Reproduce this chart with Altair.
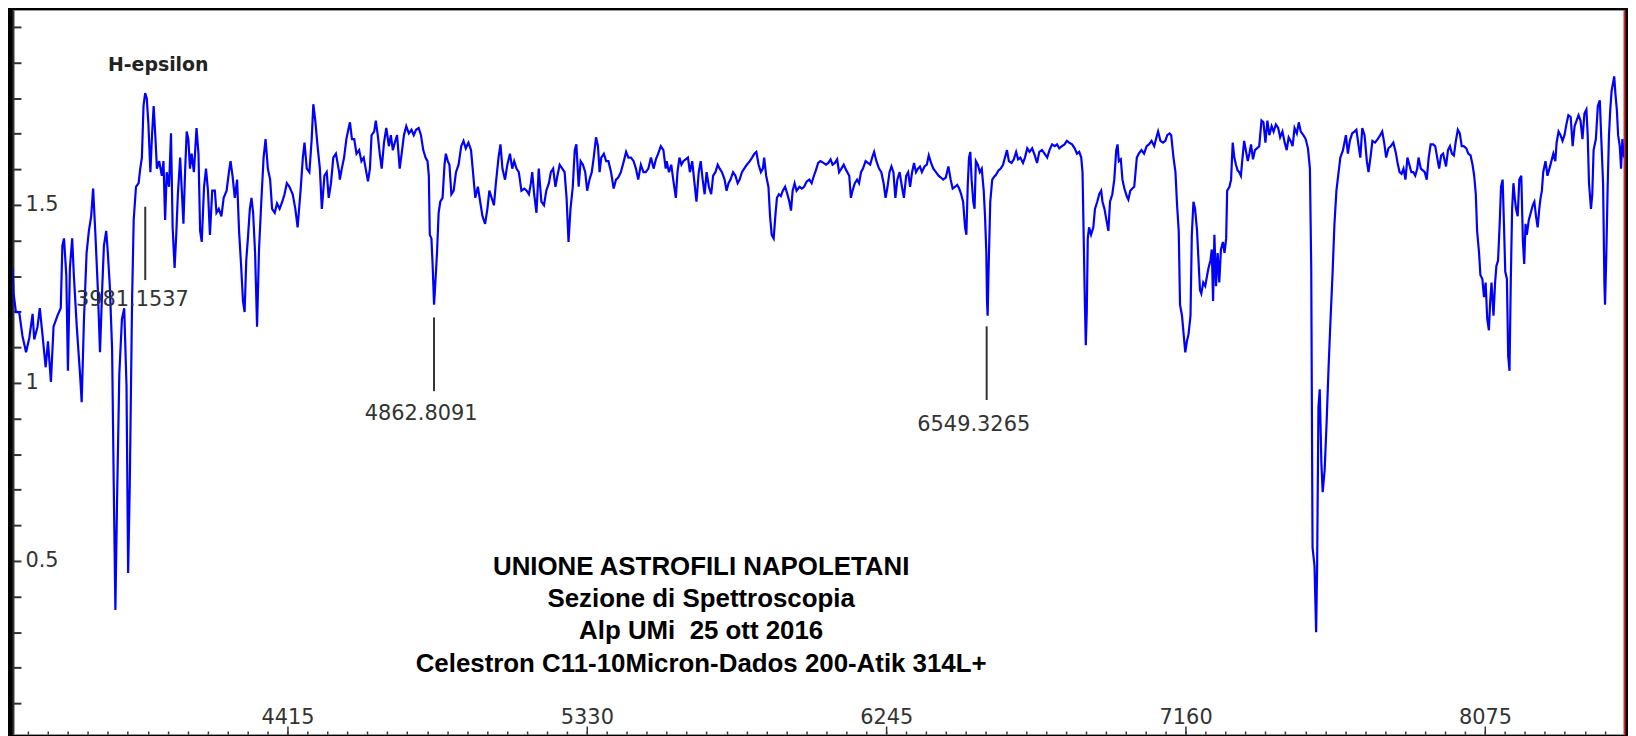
import altair as alt
import pandas as pd

# ---- spectrum (wavelength in Angstrom, relative flux) ----
wavelength = [
 3575,3578,3585,3595,3605,3616,3626,3636,3641,3651,3658,3666,3676,3683,3692,3700,3712,3722,3727,3732,
 3739,3744,3750,3757,3762,3771,3781,3786,3793,3801,3808,3815,3821,3828,3835,3842,3849,3854,3861,3866,
 3872,3879,3884,3889,3894,3901,3909,3916,3923,3928,3933,3940,3945,3952,3960,3965,3970,3975,3980,3985,
 3990,3996,4001,4006,4011,4016,4023,4031,4036,4041,4046,4053,4059,4064,4070,4075,4080,4087,4092,4097,
 4102,4107,4112,4117,4122,4129,4137,4143,4148,4153,4160,4166,4172,4178,4185,4193,4198,4205,4213,4220,
 4229,4236,4241,4247,4254,4261,4267,4273,4279,4284,4289,4294,4300,4305,4310,4316,4322,4328,4335,4342,
 4348,4355,4362,4368,4376,4383,4391,4399,4406,4413,4421,4431,4439,4446,4455,4462,4467,4474,4482,4489,
 4494,4500,4507,4514,4520,4528,4535,4541,4548,4555,4563,4573,
 4575,4581,4588,4595,4602,4606,4612,4619,4626,4634,4641,4648,4654,4661,4667,4672,4680,4685,4691,4697,
 4703,4710,4717,4725,4731,4737,4743,4750,4758,4764,4771,4778,4786,4794,4801,4808,4816,4823,4830,4837,
 4843,4847,4850,4855,4859,4863,4867,4872,4877,4882,4889,4895,4899,4905,4910,4916,4923,4930,4938,4946,
 4953,4960,4968,4976,4982,4989,4997,5004,5011,5019,5026,5032,5039,5046,5052,5060,5066,5072,5080,5087,
 5095,5102,5108,5115,5122,5130,5139,5146,5153,5159,5163,5169,5176,5183,5191,5199,5206,5214,5220,5227,
 5234,5240,5247,5255,5262,5268,5274,5280,5287,5293,5298,5305,5311,5318,5325,5331,5338,5345,5351,5358,
 5364,5369,5374,5382,5389,5396,5404,5412,5419,5426,5434,5443,5450,5457,5465,5473,5480,5487,5495,5503,
 5510,5518,5526,5534,5541,5548,5556,5564,5571,
 5574,5581,5588,5594,5602,5607,5613,5619,5625,5632,5639,5645,5652,5659,5665,5672,5678,5684,5690,5696,
 5703,5710,5716,5723,5730,5736,5743,5751,5757,5763,5769,5777,5784,5791,5797,5804,5811,5819,5828,5835,
 5842,5848,5855,5862,5868,5872,5878,5885,5890,5895,5901,5906,5911,5917,5923,5929,5936,5943,5949,5954,
 5959,5965,5971,5980,5987,5994,6002,6010,6017,6024,6030,6037,6044,6053,6061,6068,6075,6081,6088,6095,
 6101,6108,6115,6123,6132,6137,6142,6149,6156,6162,6168,6174,6182,6189,6196,6202,6208,6215,6223,6230,
 6237,6243,6249,6255,6261,6267,6273,6279,6286,6293,6299,6306,6312,6318,6324,6330,6336,6342,6348,6354,
 6362,6369,6375,6382,6389,6397,6405,6412,6419,6427,6435,6442,6448,6455,6462,6468,6474,6480,6486,6490,
 6494,6498,6502,6506,6511,6515,6519,6525,6531,6537,6543,6547,6551,6553,6555,6558,6563,6569,6577,
 6579,6588,6595,6602,6608,6614,6620,6628,6635,6642,6648,6655,6663,6669,6676,6683,6691,6699,6706,6713,
 6721,6729,6737,6744,6752,6760,6767,6774,6782,6790,6797,6804,6813,6821,6828,6835,6841,6845,6849,6852,
 6855,6858,6861,6865,6871,6878,6883,6890,6896,6902,6906,6912,6918,6924,6929,6936,6942,6948,6952,6956,
 6962,6967,6973,6980,6985,6991,6997,7003,7007,7011,7017,7025,7033,7041,7048,7056,7064,7071,7076,7083,
 7091,7098,7104,7111,7116,7123,7129,7134,7139,7143,7149,7154,7159,7164,7169,7175,7179,7184,7189,7195,
 7200,7204,7208,7214,7220,7226,7230,7236,7240,7244,7248,7253,7258,7263,7268,7274,7279,7284,7287,7294,
 7299,7304,7309,7314,7319,7324,7329,7334,7339,7344,7350,7355,7360,7366,7372,7378,7385,7392,7398,7404,
 7410,7416,7423,7429,7436,7443,7449,7456,7463,7469,7475,7481,7487,7493,7500,7506,7512,7520,7527,7534,
 7540,7544,7548,7554,7559,7562,7566,7570,7575,7579,7585,7591,7597,7603,7609,7615,7621,7627,7633,7641,
 7650,7656,7662,7669,7676,7682,7689,7694,7700,7707,7714,7719,7725,7731,7739,7747,7755,7761,7767,7773,
 7780,7787,7795,7802,7808,7814,7820,7826,7832,7838,7844,7850,7856,7862,7868,7872,7879,7885,7891,7897,
 7903,7909,7917,7923,7929,7935,7941,7947,7956,7962,7968,7974,7980,7986,7992,7998,8004,8010,8018,8024,
 8031,8037,8042,8047,8051,8057,8061,8067,8072,8077,8082,8087,8091,8095,8101,8106,8110,8115,8120,8124,
 8129,8133,8137,8142,8146,8150,8154,8158,8162,8166,8170,8175,8180,8186,8191,8195,8199,8203,8209,8215,
 8221,8226,8231,8236,8241,8245,8249,8253,8260,8266,8272,8278,8284,8290,8294,8300,8306,8312,8318,8324,
 8330,8337,8343,8349,8355,8361,8367,8373,8379,8385,8389,8393,8399,8403,8407,8414,8420,8426,8431,8436,
 8440,8442,8446,8450,8454,8458,8462,8466,8470,8474,8478,8482,8487,8491,8495,8498,8501,
]
flux = [
 1.323,1.251,1.199,1.199,1.132,1.086,1.127,1.194,1.122,1.158,1.210,1.137,1.044,1.117,1.003,1.158,1.189,1.210,1.386,1.406,
 1.303,1.034,1.323,1.406,1.303,1.158,1.024,0.946,1.179,1.365,1.427,1.468,1.546,1.416,1.272,1.086,1.272,1.386,1.427,1.365,
 1.272,1.096,0.714,0.362,0.662,1.024,1.179,1.210,0.993,0.466,0.714,1.230,1.458,1.551,1.561,1.602,1.633,1.778,1.814,1.799,
 1.726,1.592,1.696,1.778,1.696,1.602,1.623,1.582,1.623,1.458,1.592,1.551,1.701,1.437,1.323,1.416,1.530,1.633,1.540,1.447,
 1.592,1.706,1.685,1.602,1.644,1.592,1.716,1.644,1.427,1.396,1.551,1.602,1.540,1.416,1.540,1.540,1.478,1.489,1.468,1.520,
 1.540,1.592,1.623,1.582,1.520,1.571,1.427,1.334,1.230,1.199,1.344,1.406,1.489,1.520,1.478,1.365,1.158,1.375,1.509,1.633,
 1.685,1.602,1.571,1.489,1.478,1.504,1.489,1.509,1.530,1.561,1.551,1.530,1.489,1.437,1.540,1.633,1.675,1.602,1.592,1.685,
 1.783,1.737,1.665,1.602,1.489,1.582,1.592,1.520,1.561,1.633,1.644,1.592,
 1.571,1.602,1.633,1.685,1.716,1.732,1.685,1.685,1.644,1.654,1.623,1.633,1.602,1.566,1.602,1.696,1.706,1.737,1.696,1.644,
 1.602,1.675,1.716,1.665,1.696,1.654,1.675,1.696,1.602,1.644,1.696,1.721,1.701,1.711,1.696,1.711,1.716,1.696,1.654,1.633,
 1.623,1.582,1.416,1.406,1.323,1.220,1.282,1.365,1.478,1.509,1.520,1.613,1.644,1.623,1.613,1.530,1.540,1.592,1.613,1.665,
 1.680,1.659,1.675,1.654,1.592,1.520,1.551,1.509,1.468,1.447,1.489,1.540,1.520,1.499,1.561,1.633,1.670,1.602,1.571,1.613,
 1.644,1.602,1.623,1.602,1.592,1.540,1.546,1.540,1.530,1.561,1.592,1.530,1.478,1.602,1.509,1.499,1.540,1.561,1.592,1.602,
 1.551,1.582,1.613,1.602,1.592,1.520,1.396,1.489,1.551,1.654,1.670,1.551,1.623,1.613,1.592,1.540,1.571,1.592,1.633,1.690,
 1.665,1.592,1.633,1.644,1.623,1.623,1.592,1.546,1.571,1.577,1.592,1.623,1.649,1.633,1.633,1.623,1.602,1.571,1.613,1.592,
 1.592,1.602,1.633,1.602,1.628,1.644,1.665,1.654,1.602,
 1.623,1.592,1.613,1.571,1.520,1.592,1.633,1.613,1.623,1.628,1.633,1.592,1.623,1.561,1.509,1.592,1.623,1.571,1.530,1.592,
 1.551,1.530,1.582,1.592,1.613,1.602,1.592,1.571,1.540,1.561,1.571,1.592,1.582,1.561,1.571,1.592,1.602,1.613,1.623,1.633,
 1.644,1.649,1.613,1.592,1.602,1.633,1.582,1.551,1.468,1.416,1.406,1.468,1.520,1.530,1.525,1.540,1.551,1.530,1.509,1.484,
 1.540,1.561,1.540,1.551,1.546,1.551,1.566,1.571,1.561,1.582,1.597,1.618,1.623,1.618,1.613,1.618,1.628,1.613,1.618,1.628,
 1.592,1.602,1.613,1.597,1.582,1.520,1.540,1.561,1.571,1.561,1.592,1.602,1.623,1.618,1.613,1.633,1.649,1.623,1.602,1.592,
 1.561,1.520,1.551,1.592,1.608,1.592,1.520,1.571,1.592,1.551,1.520,1.582,1.592,1.551,1.592,1.618,1.592,1.602,1.608,1.592,
 1.608,1.613,1.639,1.618,1.602,1.592,1.582,1.577,1.571,1.577,1.608,1.571,1.546,1.551,1.556,1.546,1.530,1.509,1.437,1.416,
 1.551,1.633,1.649,1.571,1.509,1.489,1.623,1.613,1.592,1.602,1.540,1.468,1.365,1.230,1.189,1.323,1.509,1.571,1.582,
 1.582,1.597,1.602,1.613,1.633,1.654,1.623,1.618,1.628,1.649,1.628,1.633,1.618,1.633,1.659,1.649,1.659,1.639,1.618,1.649,
 1.654,1.644,1.633,1.654,1.670,1.665,1.670,1.659,1.665,1.670,1.680,1.675,1.670,1.659,1.644,1.649,1.633,1.592,1.386,1.230,
 1.106,1.199,1.406,1.437,1.416,1.437,1.489,1.509,1.530,1.540,1.509,1.489,1.458,1.427,1.509,1.530,1.571,1.654,1.670,1.623,
 1.628,1.571,1.546,1.525,1.515,1.540,1.546,1.551,1.592,1.633,1.644,1.654,1.644,1.665,1.670,1.680,1.665,1.690,1.706,1.680,
 1.675,1.680,1.696,1.701,1.696,1.633,1.592,1.499,1.427,1.220,1.189,1.137,1.086,1.117,1.137,1.189,1.416,1.509,1.489,1.427,
 1.334,1.261,1.251,1.282,1.272,1.303,1.323,1.344,1.375,1.230,1.416,1.272,1.365,1.282,1.375,1.396,1.365,1.406,1.540,1.551,
 1.571,1.675,1.633,1.613,1.597,1.592,1.582,1.633,1.680,1.654,1.623,1.644,1.670,1.628,1.654,1.659,1.665,1.737,1.732,1.675,
 1.737,1.696,1.721,1.706,1.726,1.716,1.690,1.706,1.675,1.654,1.690,1.680,1.665,1.716,1.701,1.732,1.706,1.696,1.685,1.659,
 1.602,1.323,0.538,0.486,0.300,0.486,0.931,0.982,0.776,0.693,0.755,0.889,1.044,1.179,1.303,1.447,1.540,1.587,1.633,1.654,
 1.696,1.644,1.680,1.701,1.706,1.711,1.665,1.633,1.716,1.696,1.623,1.592,1.633,1.680,1.675,1.685,1.696,1.706,1.675,1.633,
 1.659,1.665,1.675,1.649,1.618,1.592,1.587,1.602,1.571,1.633,1.613,1.592,1.592,1.582,1.602,1.633,1.602,1.597,1.592,1.571,
 1.633,1.670,1.670,1.665,1.633,1.602,1.639,1.644,1.608,1.654,1.665,1.644,1.639,1.680,1.711,1.701,1.665,1.665,1.659,1.644,
 1.639,1.613,1.582,1.530,1.427,1.365,1.303,1.292,1.241,1.282,1.179,1.148,1.230,1.282,1.189,1.282,1.329,1.344,1.447,1.551,
 1.571,1.447,1.313,1.292,1.075,1.034,1.292,1.489,1.561,1.520,1.489,1.468,1.571,1.582,1.396,1.334,1.447,1.416,1.458,1.478,
 1.499,1.509,1.468,1.437,1.489,1.520,1.540,1.592,1.623,1.582,1.602,1.623,1.644,1.623,1.675,1.706,1.696,1.680,1.696,1.727,
 1.752,1.747,1.665,1.721,1.737,1.752,1.737,1.685,1.757,1.768,1.696,1.561,1.489,1.530,1.654,1.685,1.778,1.794,1.675,1.561,
 1.282,1.220,1.365,1.551,1.696,1.768,1.820,1.840,1.861,1.809,1.768,1.696,1.665,1.602,1.685,1.644,1.633,
]

# ---- marked lines ----
marker_wl = [3980.3, 4862.9, 6552.0]
marker_text = ["3981.1537", "4862.8091", "6549.3265"]
marker_top = [1.495, 1.184, 1.159]
marker_bottom = [1.289, 0.977, 0.952]
marker_label_y = [1.215, 0.897, 0.866]

line_name = ["H-epsilon"]
line_name_wl = [4020]
line_name_y = [1.877]

# ---- axes ----
x_major = [4415, 5330, 6245, 7160, 8075]
x_step = 61
x_minor = [3622 + x_step * k for k in range(80)]
y_ticks = [0.1, 0.2, 0.3, 0.4, 0.5, 0.6, 0.7, 0.8, 0.9, 1.0,
           1.1, 1.2, 1.3, 1.4, 1.5, 1.6, 1.7, 1.8, 1.9, 2.0]

title_lines = ["UNIONE ASTROFILI NAPOLETANI", "Sezione di Spettroscopia",
               "Alp UMi\u00a0 25 ott 2016", "Celestron C11-10Micron-Dados 200-Atik 314L+"]

spec_df = pd.DataFrame({"wl": wavelength, "flux": flux})
mark_df = pd.DataFrame({"wl": marker_wl, "label": marker_text, "top": marker_top,
                        "bottom": marker_bottom, "ly": marker_label_y})
name_df = pd.DataFrame({"wl": line_name_wl, "y": line_name_y, "name": line_name})

W, H = 1620, 728
xs = alt.Scale(domain=[3576, 8500], nice=False, zero=False)
ys = alt.Scale(domain=[0.0139, 2.0475], nice=False, zero=False)

# minor ticks along the bottom edge (pointing into the plot)
x_axis_minor = alt.Axis(orient="top", offset=-H, values=x_minor, labels=False,
                        tickSize=3, tickColor="#333333", tickWidth=1.5,
                        domain=False, grid=False, title=None)
# major ticks with labels
x_axis_major = alt.Axis(orient="top", offset=-H, values=x_major, format="d",
                        tickSize=8, tickColor="#333333", tickWidth=1.5,
                        domain=False, grid=False, title=None,
                        labelFont="DejaVu Sans", labelFontSize=21, labelColor="#333333",
                        labelPadding=-1, labelFlush=False, labelOverlap=False, labelBound=False)

y_axis = alt.Axis(orient="right", offset=-W, values=y_ticks,
                  labelExpr="datum.value == 0.5 ? '0.5' : datum.value == 1 ? '1' : datum.value == 1.5 ? '1.5' : ''",
                  tickSize=8, tickColor="#333333", tickWidth=2,
                  domainColor="#333333", domainWidth=2, grid=False, title=None,
                  labelFont="DejaVu Sans", labelFontSize=21, labelColor="#333333",
                  labelPadding=4, labelOverlap=False, labelFlush=False)

y_axis_edge = alt.Axis(orient="left", offset=-W, domainColor="#d42a2a", domainWidth=2,
                       ticks=False, labels=False, grid=False, title=None)

spec = alt.Chart(spec_df).mark_line(color="#0000ff", strokeWidth=2.2, clip=True).encode(
    x=alt.X("wl:Q", scale=xs, axis=x_axis_minor),
    y=alt.Y("flux:Q", scale=ys, axis=y_axis),
)

rules = alt.Chart(mark_df).mark_rule(color="#333333", strokeWidth=2).encode(
    x=alt.X("wl:Q", scale=xs, axis=x_axis_major),
    y=alt.Y("top:Q", scale=ys, axis=y_axis_edge),
    y2="bottom:Q",
)

labels = alt.Chart(mark_df).mark_text(dx=-13, align="center", baseline="alphabetic",
                                      font="DejaVu Sans", fontSize=21, color="#333333").encode(
    x=alt.X("wl:Q", scale=xs, axis=None),
    y=alt.Y("ly:Q", scale=ys, axis=None),
    text="label:N",
)

names = alt.Chart(name_df).mark_text(align="center", baseline="alphabetic", font="DejaVu Sans",
                                     fontSize=19, fontWeight="bold", color="#222222").encode(
    x=alt.X("wl:Q", scale=xs, axis=None),
    y=alt.Y("y:Q", scale=ys, axis=None),
    text="name:N",
)

chart = alt.layer(spec, rules, labels, names).resolve_axis(x="independent", y="independent").properties(
    width=W, height=H,
    padding={"left": 4, "top": 0, "right": 4, "bottom": 0},
    background="#000000",
    title=alt.TitleParams(text=title_lines, orient="bottom", anchor="middle", frame="group",
                          offset=-182, dx=-118, font="Liberation Sans", fontSize=26,
                          fontWeight="bold", color="#000000", lineHeight=32.5),
).configure_view(fill="#ffffff", stroke="#9a9a9a", strokeWidth=1)

chart.save("out.html", embed_options={"renderer": "svg", "actions": False})
